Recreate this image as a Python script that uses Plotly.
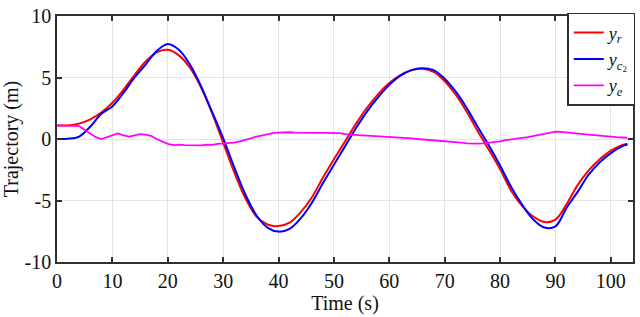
import plotly.graph_objects as go

# ---- data ----
t_ref = [0, 2, 4, 6, 8, 10, 12, 14, 16, 18, 20, 22, 24, 26, 28, 30, 32, 34, 36, 38,
         40, 42, 44, 46, 48, 50, 52, 54, 56, 58, 60, 62, 64, 66, 68, 70, 72, 74, 76, 78,
         80, 82, 84, 86, 88, 90, 92, 94, 96, 98, 100, 102, 103]
y_r = [1.1, 1.1, 1.25, 1.6, 2.15, 2.95, 4.0, 5.2, 6.3, 7.05, 7.25, 6.8, 5.8, 4.2, 2.1, -0.3,
       -2.7, -4.8, -6.3, -6.95, -7.08, -6.8, -5.95, -4.75, -3.15, -1.65, -0.2, 1.25, 2.55,
       3.65, 4.55, 5.2, 5.6, 5.72, 5.45, 4.7, 3.6, 2.2, 0.6, -0.9, -2.45, -4.2, -5.45, -6.3,
       -6.75, -6.55, -5.3, -3.75, -2.55, -1.65, -0.95, -0.5, -0.38]
y_c2 = [0.0, 0.02, 0.2, 1.0, 2.05, 2.65, 3.75, 5.0, 6.05, 7.15, 7.72, 7.25, 6.05, 4.3, 2.2,
        0.08, -2.3, -4.5, -6.2, -7.2, -7.53, -7.3, -6.45, -5.2, -3.6, -2.1, -0.6, 0.9, 2.25,
        3.4, 4.4, 5.15, 5.6, 5.75, 5.6, 4.9, 3.85, 2.5, 0.95, -0.55, -2.15, -3.9, -5.35,
        -6.55, -7.2, -7.1, -5.6, -4.3, -2.9, -1.9, -1.15, -0.6, -0.45]

t_e = list(range(0, 104))
y_e = [1.1, 1.1, 1.1, 1.1, 1.05, 0.75, 0.45, 0.15, 0.0, 0.15, 0.3, 0.45, 0.3, 0.2, 0.3, 0.4,
       0.35, 0.25, 0.0, -0.2, -0.4, -0.5, -0.45, -0.5, -0.5, -0.48, -0.52, -0.45, -0.48, -0.4,
       -0.38, -0.35, -0.3, -0.2, -0.1, 0.05, 0.2, 0.3, 0.4, 0.48, 0.52, 0.55, 0.55, 0.52, 0.5,
       0.5, 0.52, 0.5, 0.5, 0.5, 0.48, 0.47, 0.4, 0.35, 0.32, 0.3, 0.27, 0.25, 0.22, 0.2, 0.17,
       0.15, 0.12, 0.1, 0.05, 0.0, -0.03, -0.08, -0.12, -0.15, -0.18, -0.22, -0.27, -0.3, -0.35,
       -0.38, -0.37, -0.35, -0.32, -0.28, -0.2, -0.1, -0.02, 0.05, 0.1, 0.15, 0.25, 0.35, 0.45,
       0.55, 0.6, 0.58, 0.55, 0.5, 0.45, 0.4, 0.35, 0.3, 0.25, 0.22, 0.18, 0.15, 0.12, 0.1]

x_ticks = [0, 10, 20, 30, 40, 50, 60, 70, 80, 90, 100]
y_ticks = [-10, -5, 0, 5, 10]
y_tick_labels = ["-10", "-5", "0", "5", "10"]

names = ["<i>y</i><sub><i>r</i></sub>",
         "<i>y</i><sub><i>c</i><sub>2</sub></sub>",
         "<i>y</i><sub><i>e</i></sub>"]
colors = ["#ff0000", "#0000ff", "#ff00ff"]

FONT = "'Liberation Serif', 'Times New Roman', Times, serif"
AX = "#303030"
TXT = "#111111"

fig = go.Figure()
fig.add_trace(go.Scatter(x=t_ref, y=y_r, mode="lines", name=names[0],
                         line=dict(color=colors[0], width=2, shape="spline")))
fig.add_trace(go.Scatter(x=t_ref, y=y_c2, mode="lines", name=names[1],
                         line=dict(color=colors[1], width=2, shape="spline")))
fig.add_trace(go.Scatter(x=t_e, y=y_e, mode="lines", name=names[2],
                         line=dict(color=colors[2], width=1.8)))

axis_common = dict(showline=True, linecolor=AX, linewidth=1.5, mirror="ticks",
                   ticks="inside", ticklen=5, tickwidth=1.5, tickcolor=AX,
                   showgrid=True, gridcolor="#e3e3e3", gridwidth=1, zeroline=False,
                   ticklabeloverflow="allow",
                   tickfont=dict(family=FONT, size=20, color=TXT))

fig.update_layout(
    width=640, height=317,
    margin=dict(l=57, r=5, t=7, b=55),
    paper_bgcolor="white", plot_bgcolor="white",
    font=dict(family=FONT, size=20, color=TXT),
    xaxis=dict(range=[0, 104], tickvals=x_ticks,
               title=dict(text="Time (s)", font=dict(family=FONT, size=20, color=TXT),
                          standoff=2),
               **axis_common),
    yaxis=dict(range=[-10, 10], tickvals=y_ticks, ticktext=y_tick_labels,
               title=dict(text="Trajectory (m)", font=dict(family=FONT, size=20, color=TXT),
                          standoff=2),
               **axis_common),
    legend=dict(x=1.004, y=1.013, xanchor="right", yanchor="top",
                bgcolor="white", bordercolor=AX, borderwidth=1.5,
                font=dict(family=FONT, size=18, color=TXT), itemwidth=30,
                tracegroupgap=0),
    showlegend=True,
)

fig.write_html("out.html", config={"displayModeBar": False},
               post_script="document.body.style.margin='0px';")
